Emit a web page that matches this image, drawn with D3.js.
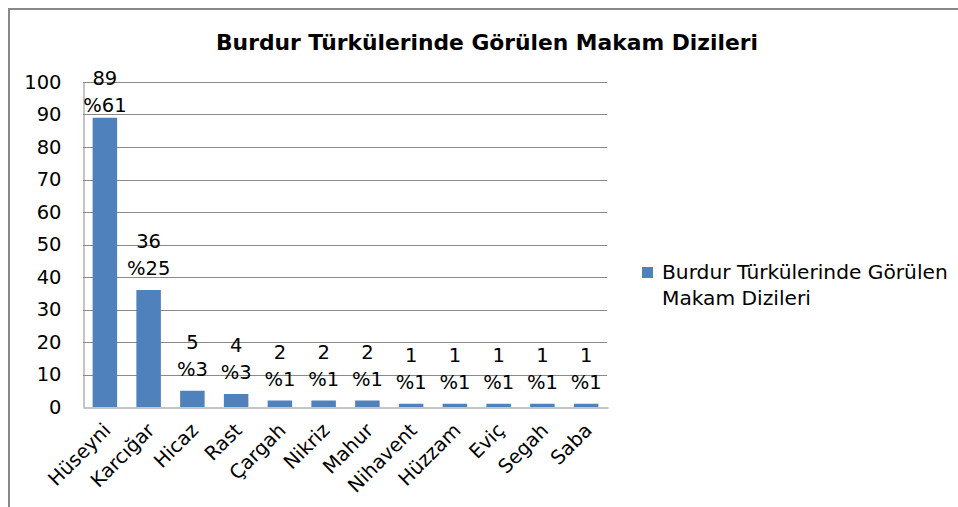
<!DOCTYPE html>
<html>
<head>
<meta charset="utf-8">
<script src="https://cdn.jsdelivr.net/npm/d3@7"></script>
<style>
  html, body { margin: 0; padding: 0; background: #fff; }
  svg { display: block; font-family: "DejaVu Sans", sans-serif; }
</style>
</head>
<body>
<svg id="chart" width="958" height="507"></svg>
<script>
// Makam counts for Burdur folk songs
const chartTitle = "Burdur Türkülerinde Görülen Makam Dizileri";
const seriesName = "Burdur Türkülerinde Görülen Makam Dizileri";
const legendLines = ["Burdur Türkülerinde Görülen", "Makam Dizileri"];
const categories = ["Hüseyni", "Karcığar", "Hicaz", "Rast", "Çargah", "Nikriz",
                    "Mahur", "Nihavent", "Hüzzam", "Eviç", "Segah", "Saba"];
const counts = [89, 36, 5, 4, 2, 2, 2, 1, 1, 1, 1, 1];
const yTicks = [0, 10, 20, 30, 40, 50, 60, 70, 80, 90, 100];

const barColor = "#4F81BD";
const gridColor = "#8a8a8a";
const total = d3.sum(counts);
const rows = categories.map((c, i) => ({
  name: c,
  value: counts[i],
  pct: "%" + Math.round(counts[i] / total * 100)
}));

const svg = d3.select("#chart");

// chart frame (top and left edges)
svg.append("path")
  .attr("d", "M9,507 L9,9 L958,9")
  .attr("fill", "none")
  .attr("stroke", "#888")
  .attr("stroke-width", 2);

// title
svg.append("text")
  .attr("x", 487).attr("y", 50)
  .attr("text-anchor", "middle")
  .attr("font-weight", "bold")
  .attr("font-size", 21.8)
  .attr("fill", "#000")
  .text(chartTitle);

const plot = { left: 83, right: 608, top: 82, bottom: 407 };

const x = d3.scaleBand()
  .domain(categories)
  .range([plot.left, plot.right])
  .paddingInner(0.44)
  .paddingOuter(0.22);

const y = d3.scaleLinear()
  .domain([0, 100])
  .range([plot.bottom, plot.top]);

// gridlines
svg.append("g")
  .selectAll("line")
  .data(yTicks.filter(t => t > 0))
  .join("line")
  .attr("x1", plot.left).attr("x2", plot.right - 1)
  .attr("y1", d => Math.round(y(d)) + 0.5)
  .attr("y2", d => Math.round(y(d)) + 0.5)
  .attr("stroke", gridColor)
  .attr("stroke-width", 1);

// y axis
const yAxis = svg.append("g")
  .attr("transform", `translate(${plot.left + 0.5},0)`)
  .call(d3.axisLeft(y).tickValues(yTicks).tickSize(0).tickPadding(22).tickFormat(d3.format("d")));
yAxis.select(".domain").attr("stroke", gridColor);
yAxis.selectAll("text")
  .attr("font-family", "DejaVu Sans")
  .attr("font-size", 19.5)
  .attr("fill", "#000");

// bars
svg.append("g")
  .selectAll("rect")
  .data(rows)
  .join("rect")
  .attr("x", d => x(d.name))
  .attr("width", x.bandwidth())
  .attr("y", d => y(d.value))
  .attr("height", d => y(0) - y(d.value))
  .attr("fill", barColor);

// x axis
const xAxis = svg.append("g")
  .attr("transform", `translate(0,${plot.bottom + 0.5})`)
  .call(d3.axisBottom(x).tickSize(0).tickPadding(0));
xAxis.select(".domain").attr("stroke", gridColor);
xAxis.selectAll("text")
  .attr("font-family", "DejaVu Sans")
  .attr("font-size", 19.5)
  .attr("fill", "#000")
  .attr("text-anchor", "end")
  .attr("dy", null)
  .attr("y", 0)
  .attr("transform", "translate(7,24) rotate(-45)");

// value labels: count on top line, percentage beneath
const lineGap = 27;
const labels = svg.append("g")
  .selectAll("text")
  .data(rows)
  .join("text")
  .attr("text-anchor", "middle")
  .attr("font-size", 19.5)
  .attr("fill", "#000");
labels.each(function (d) {
  const cx = x(d.name) + x.bandwidth() / 2;
  const base = Math.max(y(d.value) - 15, plot.top + 30);
  const t = d3.select(this);
  t.append("tspan").attr("x", cx).attr("y", base - lineGap).text(d.value);
  t.append("tspan").attr("x", cx).attr("y", base).text(d.pct);
});

// legend
const legend = svg.append("g").attr("aria-label", seriesName);
legend.append("rect")
  .attr("x", 642).attr("y", 267)
  .attr("width", 11).attr("height", 11)
  .attr("fill", barColor);
legend.selectAll("text")
  .data(legendLines)
  .join("text")
  .attr("x", 662)
  .attr("y", (d, i) => 279 + i * 26)
  .attr("font-size", 20.2)
  .attr("fill", "#000")
  .text(d => d);
</script>
</body>
</html>
